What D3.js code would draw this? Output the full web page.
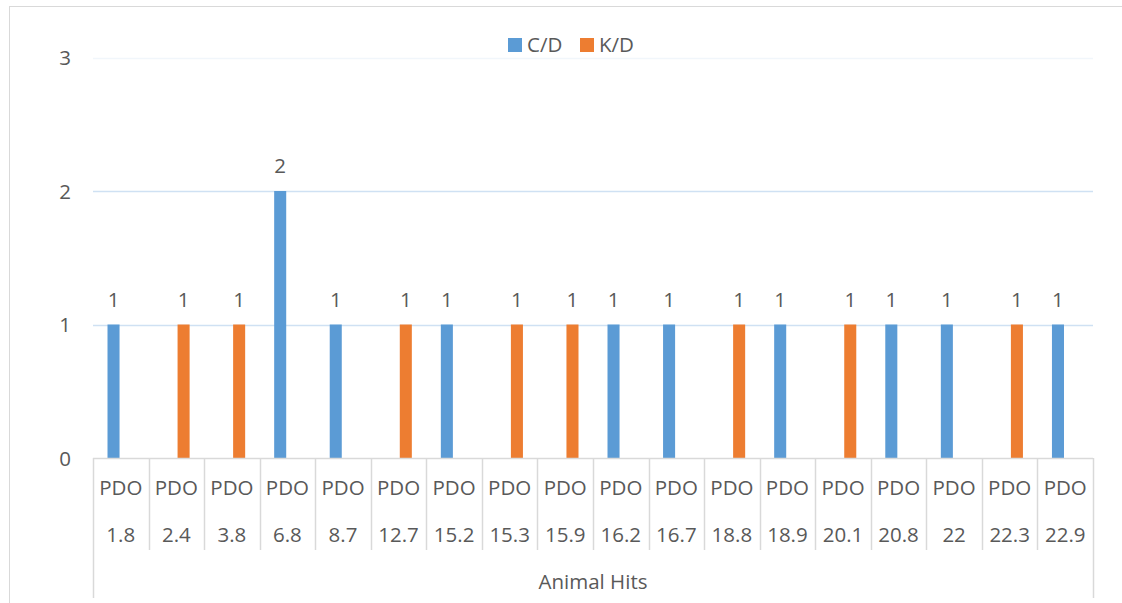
<!DOCTYPE html>
<html>
<head>
<meta charset="utf-8">
<script src="https://cdn.jsdelivr.net/npm/d3@7"></script>
<style>
  html, body { margin: 0; padding: 0; background: #fff; }
  svg { display: block; }
  text { font-family: "Open Sans", "DejaVu Sans", sans-serif; fill: #595959; }
</style>
</head>
<body>
<svg id="chart" width="1122" height="603"></svg>
<script>
// Category labels (two lines each) and the two series
const categories = ["1.8", "2.4", "3.8", "6.8", "8.7", "12.7", "15.2", "15.3", "15.9",
                    "16.2", "16.7", "18.8", "18.9", "20.1", "20.8", "22", "22.3", "22.9"];
const categoryPrefix = "PDO";
const seriesNames = ["C/D", "K/D"];
const cdValues = [1, null, null, 2, 1, null, 1, null, null, 1, 1, null, 1, null, 1, 1, null, 1];
const kdValues = [null, 1, 1, null, null, 1, null, 1, 1, null, null, 1, null, 1, null, null, 1, null];
const yTicks = [0, 1, 2, 3];
const axisTitle = "Animal Hits";

const colors = { "C/D": "#5b9bd5", "K/D": "#ed7d31" };
const FS = 20.5;

const svg = d3.select("#chart");
const W = 1122, H = 603;
const plot = { left: 93, right: 1093, top: 57.5, bottom: 458 };

// chart frame
svg.append("rect")
  .attr("x", 9.5).attr("y", 6.5)
  .attr("width", W).attr("height", H)
  .attr("fill", "none").attr("stroke", "#d9d9d9").attr("stroke-width", 1);

const y = d3.scaleLinear().domain([0, 3]).range([plot.bottom, plot.top]);
const x0 = d3.scaleBand().domain(categories).range([plot.left, plot.right]).paddingInner(0).paddingOuter(0);
const x1 = d3.scaleBand().domain(seriesNames).range([0, x0.bandwidth()]).paddingInner(0.17).paddingOuter(1.0);

// gridlines
const grid = svg.append("g");
grid.selectAll("line").data(yTicks.filter(d => d > 0)).join("line")
  .attr("x1", plot.left).attr("x2", plot.right)
  .attr("y1", d => Math.round(y(d)) + 0.5).attr("y2", d => Math.round(y(d)) + 0.5)
  .attr("stroke", d => d === 3 ? "#f1f6fb" : "#cfe1f3")
  .attr("stroke-width", 1.5);

// y axis labels
const yAxis = d3.axisLeft(y).tickValues(yTicks).tickSize(0).tickPadding(0).tickFormat(d3.format("d"));
const yG = svg.append("g").attr("transform", `translate(71,0)`).call(yAxis);
yG.select(".domain").remove();
yG.selectAll("text").attr("font-size", FS).style("fill", "#595959")
  .style("font-family", "'Open Sans', sans-serif").attr("dy", "0.35em");

// bars
const rows = categories.map((c, i) => ({ cat: c, values: [
  { key: "C/D", value: cdValues[i] },
  { key: "K/D", value: kdValues[i] }
].filter(v => v.value != null) }));

const groups = svg.append("g").selectAll("g").data(rows).join("g")
  .attr("transform", d => `translate(${x0(d.cat)},0)`);

groups.selectAll("rect").data(d => d.values).join("rect")
  .attr("x", d => x1(d.key))
  .attr("width", x1.bandwidth())
  .attr("y", d => y(d.value))
  .attr("height", d => y(0) - y(d.value))
  .attr("fill", d => colors[d.key]);

groups.selectAll("text.val").data(d => d.values).join("text")
  .attr("class", "val")
  .attr("x", d => x1(d.key) + x1.bandwidth() / 2)
  .attr("y", d => y(d.value) - 18)
  .attr("text-anchor", "middle")
  .attr("font-size", FS)
  .text(d => d.value);

// category axis line and separators
const axisG = svg.append("g").attr("stroke", "#d9d9d9").attr("stroke-width", 1.5);
axisG.append("line")
  .attr("x1", plot.left).attr("x2", plot.right)
  .attr("y1", plot.bottom + 0.5).attr("y2", plot.bottom + 0.5);
const edges = categories.map(c => x0(c)).concat([plot.right]);
axisG.selectAll("line.sep").data(edges).join("line")
  .attr("class", "sep")
  .attr("x1", d => Math.round(d) + 0.5).attr("x2", d => Math.round(d) + 0.5)
  .attr("y1", plot.bottom)
  .attr("y2", (d, i) => (i === 0 || i === edges.length - 1) ? 598 : 550);

// category labels
const catG = svg.append("g");
catG.selectAll("text.pre").data(categories).join("text")
  .attr("class", "pre")
  .attr("x", d => x0(d) + x0.bandwidth() / 2)
  .attr("y", 488).attr("dy", "0.35em")
  .attr("text-anchor", "middle").attr("font-size", FS)
  .text(categoryPrefix);
catG.selectAll("text.num").data(categories).join("text")
  .attr("class", "num")
  .attr("x", d => x0(d) + x0.bandwidth() / 2)
  .attr("y", 535).attr("dy", "0.35em")
  .attr("text-anchor", "middle").attr("font-size", FS)
  .text(d => d);

svg.append("text")
  .attr("x", (plot.left + plot.right) / 2).attr("y", 582).attr("dy", "0.35em")
  .attr("text-anchor", "middle").attr("font-size", FS)
  .text(axisTitle);

// legend
const lg = svg.append("g").selectAll("g").data(seriesNames).join("g")
  .attr("transform", (d, i) => `translate(${508 + i * 72},38)`);
lg.append("rect").attr("width", 14).attr("height", 14).attr("fill", d => colors[d]);
lg.append("text").attr("x", 19).attr("y", 7).attr("dy", "0.35em")
  .attr("font-size", FS).text(d => d);
</script>
</body>
</html>
